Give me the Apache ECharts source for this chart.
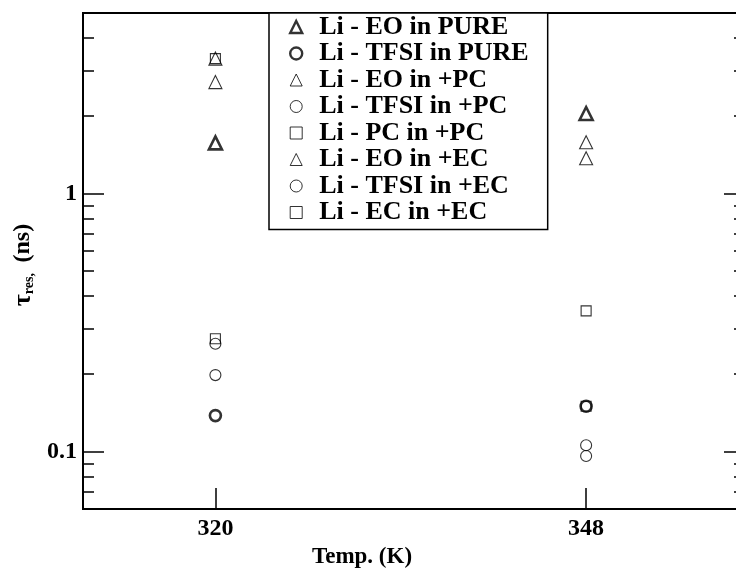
<!DOCTYPE html>
<html>
<head>
<meta charset="utf-8">
<script src="https://cdn.jsdelivr.net/npm/echarts@6/dist/echarts.min.js"></script>
<style>
  html, body { margin: 0; padding: 0; background: #fff; }
  #chart { width: 736px; height: 569px; }
</style>
</head>
<body>
<div id="chart"></div>
<script>
// Temperatures (K) and residence times (ns)
const temperatures = [320, 348];
const xTickValues = [320, 348];
const yMajorTicks = [0.1, 1];
const yMinorTicks = [0.07, 0.08, 0.09, 0.2, 0.3, 0.4, 0.5, 0.6, 0.7, 0.8, 0.9, 2, 3, 4];

const eoPure   = [1.57, 2.04];
const tfsiPure = [0.138, 0.150];
const eoPC     = [2.70, 1.58];
const tfsiPC   = [0.198, 0.106];
const pcPC     = [3.33, 0.351];
const eoEC     = [3.33, 1.37];
const tfsiEC   = [0.262, 0.0962];
const ecEC     = [0.274, 0.150];

const seriesNames = [
  'Li - EO in PURE', 'Li - TFSI in PURE',
  'Li - EO in +PC', 'Li - TFSI in +PC', 'Li - PC in +PC',
  'Li - EO in +EC', 'Li - TFSI in +EC', 'Li - EC in +EC'
];
const seriesValues = [eoPure, tfsiPure, eoPC, tfsiPC, pcPC, eoEC, tfsiEC, ecEC];
const seriesSymbols = ['triangle', 'circle', 'triangle', 'circle', 'rect', 'triangle', 'circle', 'rect'];
const seriesBold = [true, true, false, false, false, false, false, false];

const FONT = "'Liberation Serif', 'Times New Roman', serif";
const symbolSizes = { triangle: 13, circle: 11, rect: 10 };
const thickBorder = 2.6;
const thinBorder = 1.1;

const chart = echarts.init(document.getElementById('chart'), null, { renderer: 'canvas' });

function logAxis(position, ticks, tickLength, withLabels, withLine) {
  return {
    type: 'log',
    logBase: 10,
    min: 0.06,
    max: 5,
    position: position,
    axisLine: { show: withLine, lineStyle: { color: '#000', width: 2 } },
    axisTick: {
      show: true, inside: true, length: tickLength, customValues: ticks,
      lineStyle: { color: '#000', width: 1.5 }
    },
    minorTick: { show: false },
    splitLine: { show: false },
    axisLabel: withLabels ? {
      show: true, customValues: ticks, color: '#000', fontSize: 24,
      fontWeight: 'bold', fontFamily: FONT, margin: 6,
      formatter: v => String(v)
    } : { show: false }
  };
}

const yAxes = [
  logAxis('left', yMajorTicks, 21, true, true),
  logAxis('left', yMinorTicks, 11, false, false),
  logAxis('right', yMajorTicks, 21, false, true),
  logAxis('right', yMinorTicks, 11, false, false)
];
yAxes[0].name = '{t|τ}{s|res,}   {n|(ns)}';
yAxes[0].nameLocation = 'middle';
yAxes[0].nameGap = 47;
yAxes[0].nameTextStyle = {
  color: '#000',
  fontFamily: FONT,
  fontWeight: 'bold',
  fontSize: 14,
  padding: [0, 8, 0, 0],
  rich: {
    t: { fontSize: 26, fontFamily: FONT, fontWeight: 'bold', color: '#000', lineHeight: 26 },
    s: { fontSize: 14, fontFamily: FONT, fontWeight: 'bold', color: '#000', lineHeight: 12, verticalAlign: 'bottom' },
    n: { fontSize: 24, fontFamily: FONT, fontWeight: 'bold', color: '#000', lineHeight: 26 }
  }
};

const series = seriesNames.map((name, i) => ({
  name: name,
  type: 'scatter',
  yAxisIndex: 0,
  symbol: seriesSymbols[i],
  symbolSize: symbolSizes[seriesSymbols[i]],
  itemStyle: {
    color: 'rgba(0,0,0,0)',
    borderColor: '#000',
    borderWidth: seriesBold[i] ? thickBorder : thinBorder
  },
  emphasis: { disabled: true },
  data: temperatures.map((t, k) => [t, seriesValues[i][k]])
}));

chart.setOption({
  animation: false,
  backgroundColor: '#fff',
  grid: {
    left: 83, top: 13, right: -9, bottom: 60,
    show: true, borderColor: '#000', borderWidth: 2,
    outerBoundsMode: 'none'
  },
  xAxis: {
    type: 'value',
    min: 310,
    max: 360,
    position: 'bottom',
    axisLine: { show: true, lineStyle: { color: '#000', width: 2 } },
    axisTick: {
      show: true, inside: true, length: 21, customValues: xTickValues,
      lineStyle: { color: '#000', width: 1.5 }
    },
    splitLine: { show: false },
    axisLabel: {
      customValues: xTickValues, color: '#000', fontSize: 24,
      fontWeight: 'bold', fontFamily: FONT, margin: 8
    },
    name: 'Temp. (K)',
    nameLocation: 'middle',
    nameGap: 33,
    nameTextStyle: {
      color: '#000', fontSize: 23, fontWeight: 'bold', fontFamily: FONT,
      padding: [0, 104, 0, 0]
    }
  },
  yAxis: yAxes,
  legend: {
    orient: 'vertical',
    left: 269,
    top: 13,
    itemWidth: 12,
    itemHeight: 12,
    itemGap: 0.5,
    padding: [1, 19, 4, 20],
    borderColor: '#000',
    borderWidth: 1.5,
    backgroundColor: '#fff',
    selectedMode: false,
    data: seriesNames.map((name, i) => ({
      name: name,
      itemStyle: {
        color: 'rgba(0,0,0,0)',
        borderColor: '#000',
        borderWidth: seriesBold[i] ? 2.4 : 1
      }
    })),
    textStyle: {
      color: '#000', fontSize: 26, fontWeight: 'bold', fontFamily: FONT,
      lineHeight: 26, padding: [0, 0, 0, 12]
    }
  },
  series: series
});
</script>
</body>
</html>
